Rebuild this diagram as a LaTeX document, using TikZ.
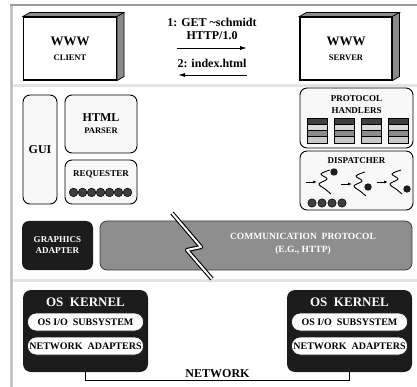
\documentclass[tikz,border=0pt]{standalone}
\usepackage{fontspec}
\setmainfont{Liberation Serif}
\usetikzlibrary{positioning,arrows.meta,calc}
\definecolor{rulegray}{HTML}{C4C4C4}
\definecolor{sepgray}{HTML}{E4E4E4}
\definecolor{panelfill}{HTML}{F8F8F8}
\definecolor{inkdark}{HTML}{1C1C1C}
\definecolor{protofill}{HTML}{8E8E8E}
\definecolor{edgegray}{HTML}{8A8A8A}

\begin{document}
\begin{tikzpicture}[x=1pt, y=-1pt, font=\bfseries,
    bigtxt/.style={font=\fontsize{12}{13}\selectfont\bfseries},
    smalltxt/.style={font=\fontsize{9}{12}\selectfont\bfseries},
    host/.style={draw, line width=1.1pt, fill=white, inner sep=0pt, align=center,
                 minimum width=93pt, minimum height=63pt},
    module/.style={draw, line width=0.9pt, fill=panelfill, rounded corners=7pt,
                   inner sep=0pt, align=center},
    kernel/.style={fill=inkdark, rounded corners=8pt, minimum width=125pt,
                   minimum height=82pt},
    pill/.style={draw=inkdark, line width=0.8pt, fill=white, rounded corners=8.5pt,
                 minimum width=116pt, minimum height=18pt, inner sep=0pt,
                 font=\fontsize{10}{11}\selectfont\bfseries},
    edge/.style={fill=edgegray, draw, line width=0.7pt},
    msg/.style={-{Latex[length=7pt,width=4pt]}, line width=0.9pt}]

  \useasboundingbox (0,0) rectangle (417,387);

  % frame and separators
  \draw[rulegray, line width=3pt] (11.5,4) -- (11.5,387);
  \draw[rulegray!80!black, line width=1.5pt] (10,5) -- (417,5);
  \draw[sepgray, line width=3pt] (13,86) -- (417,86);
  \draw[sepgray, line width=3pt] (13,280) -- (417,280);

  % hosts
  \node[host] (client) at (70,48.5)
    {\fontsize{13}{14}\selectfont WWW\\[3pt]\fontsize{8.5}{9}\selectfont CLIENT};
  \node[host, minimum width=92pt] (server) at (346,48.5)
    {\fontsize{13}{14}\selectfont WWW\\[3pt]\fontsize{8.5}{9}\selectfont SERVER};
  \foreach \h in {client,server} {
    \filldraw[edge] (\h.north west) -- ++(7,-4) -- ($(\h.north east)+(7,-4)$)
      -- (\h.north east) -- cycle;
    \filldraw[edge] (\h.north east) -- ++(7,-4) -- ($(\h.south east)+(7,-4)$)
      -- (\h.south east) -- cycle;
  }

  % request and reply
  \node[bigtxt, align=center] (getlbl) at (212,29)
    {1: GET \textasciitilde schmidt\\HTTP/1.0};
  \coordinate (getL) at (177,48);
  \coordinate (getR) at (247,48);
  \draw[msg] (getL) -- (getR);
  \node[bigtxt] (idxlbl) at (212,63) {2: index.html};
  \coordinate (idxR) at (247,75);
  \coordinate (idxL) at (178,75);
  \draw[msg] (idxR) -- (idxL);

  % client side modules
  \node[module, bigtxt, minimum width=34pt, minimum height=109pt] (gui) at (40,149.5) {GUI};
  \node[module, minimum width=72pt, minimum height=58pt] (html) at (101,124)
    {\fontsize{12}{14}\selectfont HTML\\\fontsize{8.5}{10}\selectfont PARSER};
  \node[module, minimum width=72pt, minimum height=44pt] (requester) at (101,182) {};
  \node[smalltxt, below=7pt of requester.north] (reqlbl) {REQUESTER};
  \foreach \i in {0,...,6}
    \filldraw[fill=inkdark!85, line width=0.5pt]
      ($(requester.south west)+(9+9*\i,-12)$) circle (4.3pt);

  % protocol handlers
  \node[module, minimum width=113pt, minimum height=60pt] (handlers) at (356.5,118) {};
  \node[smalltxt, align=center, below=4pt of handlers.north] (hndlbl) {PROTOCOL\\HANDLERS};
  \foreach \k in {0,...,3}
    \foreach \r/\c in {0/black!75, 1/black!15, 2/black!45, 3/black!22}
      \filldraw[fill=\c, line width=0.5pt] (307+27*\k, 118+6.25*\r) rectangle ++(20,6.25);

  % dispatcher with its threads
  \node[module, minimum width=113pt, minimum height=59pt] (dispatcher) at (356.5,180.5) {};
  \node[smalltxt, below=3pt of dispatcher.north] (dsplbl) {DISPATCHER};
  \foreach \tx/\ty/\dx/\dy in {306/182/334/172, 341/184/368/187, 377/182/407/189} {
    \draw[-{Latex[length=4pt,width=3pt]}, line width=0.8pt] (\tx,\ty) -- ++(11,0);
    \draw[line width=0.9pt, shift={(\tx+13,\ty)}] plot[smooth, tension=0.6]
      coordinates {(11,-12) (2,-8) (8,-3) (0,2) (6,7) (12,12)};
    \fill[inkdark] (\dx,\dy) circle (3.7pt);
  }
  \foreach \i in {0,...,3}
    \filldraw[fill=inkdark!85, line width=0.5pt] (312+10*\i,203) circle (4.2pt);

  % adapter and protocol layer
  \node[fill=inkdark, rounded corners=7pt, minimum width=71pt, minimum height=49pt,
        text=white, align=center, font=\fontsize{9}{11}\selectfont\bfseries]
    (gfx) at (57.5,245.5) {GRAPHICS\\ADAPTER};
  \node[draw=black!75, line width=0.8pt, fill=protofill, rounded corners=7pt,
        minimum width=312pt, minimum height=49pt] (comm) at (256,245.5) {};
  \node[text=white, align=center, font=\fontsize{9.5}{13}\selectfont\bfseries]
    (commlbl) at (303,244) {COMMUNICATION\ \ PROTOCOL\\(E.G., HTTP)};
  \foreach \w/\c in {4.2pt/black, 2pt/white}
    \draw[\c, line width=\w, line join=round]
      (172,213) -- (201,247) -- (187,250) -- (212,279);

  % kernels
  \foreach \s/\x in {kl/85.5, kr/349.5} {
    \node[kernel] (\s) at (\x,331) {};
    \node[text=white, font=\fontsize{13}{14}\selectfont\bfseries, below=5pt of \s.north]
      (\s-title) {OS\ \ KERNEL};
    \node[pill] (\s-io) at (\x,322) {OS I/O\ \ SUBSYSTEM};
    \node[pill] (\s-net) at (\x,346) {NETWORK\ \ ADAPTERS};
  }
  \draw[line width=1.2pt] (kl.south) -- ++(0,8)
    -| node[pos=0.25, above=-1pt, bigtxt] (netlbl) {NETWORK} (kr.south);
\end{tikzpicture}
\end{document}
